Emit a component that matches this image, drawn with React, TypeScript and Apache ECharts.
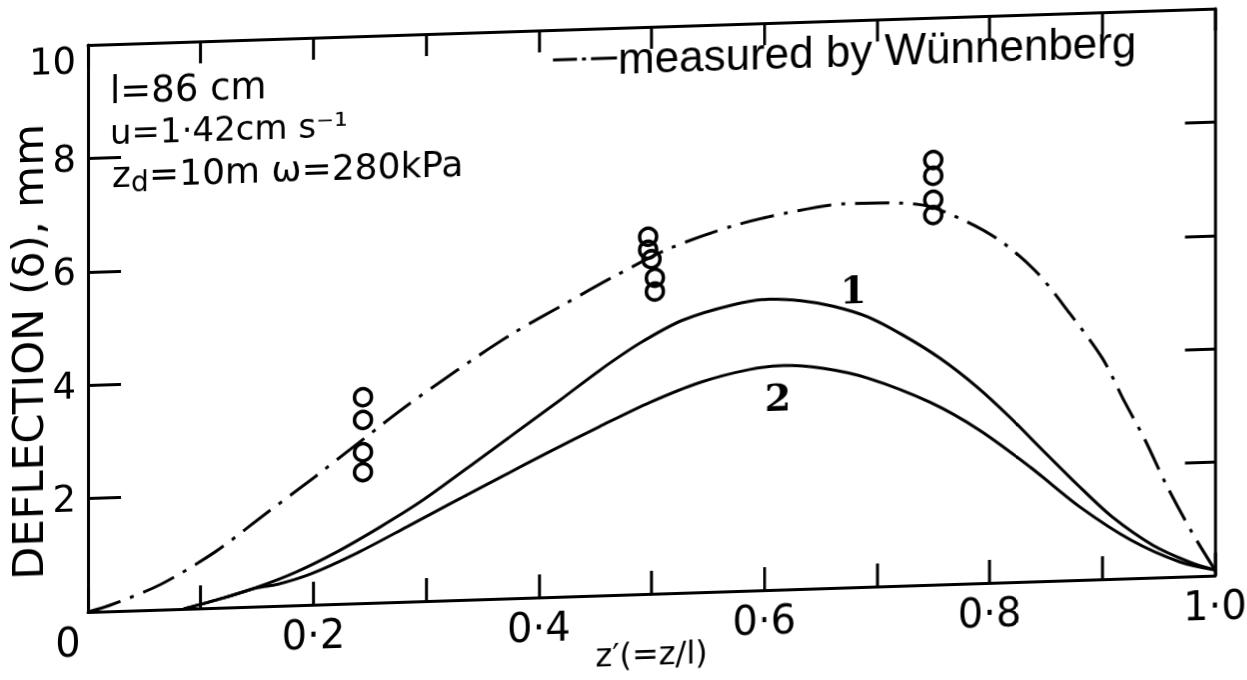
import React, { useEffect, useRef } from "react";
import * as echarts from "echarts";

// ---- tick labels ----
const xTickLabels = ["0", "0·2", "0·4", "0·6", "0·8", "1·0"];
const yTickLabels = ["", "2", "4", "6", "8", "10"];

// ---- dash-dot curve: measured by Wünnenberg ----
const measuredZ = [0, 0.02, 0.065, 0.113, 0.154, 0.201, 0.281, 0.328, 0.376, 0.421, 0.466, 0.516, 0.572, 0.62, 0.672, 0.72, 0.75, 0.802, 0.84, 0.871, 0.9, 0.92, 0.938, 0.957, 0.98, 1.0];
const measuredDeflection = [0, 0.11, 0.45, 0.99, 1.58, 2.25, 3.43, 4.06, 4.66, 5.14, 5.61, 6.08, 6.44, 6.64, 6.77, 6.75, 6.65, 6.13, 5.49, 4.71, 3.9, 3.11, 2.43, 1.62, 0.76, 0.1];

// ---- curve 1 ----
const curve1Z = [0.085, 0.12, 0.15, 0.185, 0.221, 0.259, 0.297, 0.35, 0.386, 0.419, 0.454, 0.49, 0.528, 0.572, 0.605, 0.634, 0.661, 0.692, 0.723, 0.756, 0.789, 0.818, 0.847, 0.878, 0.909, 0.945, 0.978, 1.0];
const curve1Deflection = [0, 0.17, 0.34, 0.59, 0.92, 1.33, 1.78, 2.51, 3.01, 3.47, 3.97, 4.43, 4.81, 5.05, 5.13, 5.08, 4.97, 4.76, 4.42, 3.99, 3.46, 2.91, 2.31, 1.68, 1.09, 0.57, 0.25, 0.1];

// ---- curve 2 ----
const curve2Z = [0.085, 0.12, 0.15, 0.168, 0.197, 0.239, 0.283, 0.321, 0.366, 0.41, 0.454, 0.499, 0.543, 0.587, 0.617, 0.652, 0.692, 0.747, 0.791, 0.836, 0.88, 0.925, 0.969, 1.0];
const curve2Deflection = [0, 0.17, 0.33, 0.38, 0.54, 0.89, 1.32, 1.7, 2.14, 2.57, 2.98, 3.38, 3.7, 3.9, 3.95, 3.88, 3.68, 3.22, 2.7, 2.02, 1.29, 0.68, 0.26, 0.1];

// ---- measured points (circles) ----
const pointZ = [0.244, 0.244, 0.244, 0.244, 0.497, 0.497, 0.5, 0.503, 0.503, 0.75, 0.75, 0.75, 0.75];
const pointDeflection = [3.63, 3.23, 2.66, 2.31, 6.3, 6.07, 5.9, 5.57, 5.33, 7.49, 7.21, 6.79, 6.52];

// ---- curve labels ----
const curveLabelText = ["1", "2"];
const curveLabelZ = [0.679, 0.612];
const curveLabelDeflection = [5.24, 3.4];

const FONT = '"DejaVu Sans", sans-serif';
const BLACK = "#000";

const pairs = (xs: number[], ys: number[]) => xs.map((x, i) => [x, ys[i]]);

export default function App() {
  const ref = useRef<HTMLDivElement>(null);

  useEffect(() => {
    if (!ref.current) return;
    const chart = echarts.init(ref.current, undefined, { renderer: "svg" });
    const axisLine = { show: true, onZero: false, lineStyle: { color: BLACK, width: 3 } };
    const option: any = {
      animation: false,
      backgroundColor: "#fff",
      grid: { left: 88, top: 45, width: 1127, height: 567, containLabel: false, outerBoundsMode: "none" },
      legend: {
        data: [
          {
            name: "measured by Wünnenberg",
            icon: "path://M0,0H24V3H0Z M29,0H33V3H29Z M38,0H64V3H38Z",
          },
        ],
        left: 548,
        top: 48,
        itemWidth: 64,
        itemHeight: 3,
        itemGap: 0,
        textStyle: { fontFamily: '"Liberation Sans", sans-serif', fontSize: 44, color: BLACK, padding: [0, 0, 0, -4] },
      },
      xAxis: [
        {
          type: "value",
          min: 0,
          max: 1,
          interval: 0.1,
          position: "bottom",
          axisLine,
          axisTick: { show: true, inside: true, length: 23, lineStyle: { color: BLACK, width: 3 } },
          splitLine: { show: false },
          axisLabel: {
            margin: 10,
            fontFamily: FONT,
            fontSize: 40,
            color: BLACK,
            formatter: (v: number) => {
              const i = Math.round(v * 10);
              if (i % 2 !== 0) return "";
              const s = xTickLabels[i / 2];
              return i === 0 ? `{zero|${s}}` : s;
            },
            rich: { zero: { fontFamily: FONT, fontSize: 40, color: BLACK, padding: [0, 40, 0, 0] } },
          },
          name: "z′(=z/l)",
          nameLocation: "middle",
          nameGap: 44,
          nameMoveOverlap: false,
          nameTextStyle: { fontFamily: FONT, fontSize: 32, color: BLACK, verticalAlign: "top" },
        },
        {
          type: "value",
          min: 0,
          max: 1,
          interval: 0.1,
          position: "top",
          axisLine,
          axisTick: { show: true, inside: true, length: 22, lineStyle: { color: BLACK, width: 3 } },
          splitLine: { show: false },
          axisLabel: { show: false },
        },
      ],
      yAxis: [
        {
          type: "value",
          min: 0,
          max: 10,
          interval: 2,
          position: "left",
          axisLine,
          axisTick: { show: true, inside: true, length: 33, lineStyle: { color: BLACK, width: 3 } },
          splitLine: { show: false },
          axisLabel: {
            margin: 12,
            fontFamily: FONT,
            fontSize: 37,
            color: BLACK,
            formatter: (v: number) => {
              const i = Math.round(v / 2);
              const s = yTickLabels[i];
              return i === 5 ? `{top|${s}}` : s;
            },
            rich: { top: { fontFamily: FONT, fontSize: 37, color: BLACK, padding: [30, 0, 0, 0] } },
          },
          name: "DEFLECTION (δ), mm",
          nameLocation: "middle",
          nameRotate: 90,
          nameGap: 40,
          nameMoveOverlap: false,
          nameTextStyle: { fontFamily: FONT, fontSize: 43, lineHeight: 40, color: BLACK, padding: [0, 43, 0, 0] },
        },
        {
          type: "value",
          min: 0,
          max: 10,
          interval: 2,
          position: "right",
          axisLine,
          axisTick: { show: true, inside: true, length: 30, lineStyle: { color: BLACK, width: 3 } },
          splitLine: { show: false },
          axisLabel: { show: false },
        },
      ],
      series: [
        {
          name: "measured by Wünnenberg",
          type: "line",
          data: pairs(measuredZ, measuredDeflection),
          smooth: 0.3,
          symbol: "none",
          lineStyle: { color: BLACK, width: 3, type: [34, 10, 4, 10], cap: "butt" },
          itemStyle: { color: BLACK },
          z: 2,
        },
        {
          name: "1",
          type: "line",
          data: pairs(curve1Z, curve1Deflection),
          smooth: 0.3,
          symbol: "none",
          lineStyle: { color: BLACK, width: 3 },
          z: 2,
        },
        {
          name: "2",
          type: "line",
          data: pairs(curve2Z, curve2Deflection),
          smooth: 0.3,
          symbol: "none",
          lineStyle: { color: BLACK, width: 3 },
          z: 2,
        },
        {
          name: "points",
          type: "scatter",
          data: pairs(pointZ, pointDeflection),
          symbol: "circle",
          symbolSize: 17,
          itemStyle: { color: "rgba(0,0,0,0)", borderColor: BLACK, borderWidth: 3.5, opacity: 1 },
          z: 3,
        },
        {
          name: "curve labels",
          type: "scatter",
          data: pairs(curveLabelZ, curveLabelDeflection),
          symbolSize: 0,
          itemStyle: { opacity: 1 },
          label: {
            show: true,
            position: "inside",
            formatter: (p: any) => curveLabelText[p.dataIndex],
            fontFamily: '"DejaVu Serif", serif',
            fontSize: 38,
            fontWeight: "bold",
            color: BLACK,
          },
          z: 3,
        },
      ],
      graphic: [
        { type: "text", x: 110, y: 92, style: { text: "l=86 cm", fontFamily: FONT, fontSize: 37, fill: BLACK, verticalAlign: "middle" } },
        { type: "text", x: 110, y: 133, style: { text: "u=1·42cm s⁻¹", fontFamily: FONT, fontSize: 34, fill: BLACK, verticalAlign: "middle" } },
        { type: "text", x: 112, y: 176, style: { text: "z", fontFamily: FONT, fontSize: 36, fill: BLACK, verticalAlign: "middle" } },
        { type: "text", x: 131, y: 184, style: { text: "d", fontFamily: FONT, fontSize: 28, fill: BLACK, verticalAlign: "middle" } },
        { type: "text", x: 149, y: 176, style: { text: "=10m ω=280kPa", fontFamily: FONT, fontSize: 36, fill: BLACK, verticalAlign: "middle" } },
      ],
    };
    chart.setOption(option);
    return () => chart.dispose();
  }, []);

  return (
    <div
      ref={ref}
      style={{
        position: "fixed",
        left: 0,
        top: 0,
        width: 1247,
        height: 720,
        transform: "skewY(-1.85deg)",
        transformOrigin: "88px 612px",
      }}
    />
  );
}
